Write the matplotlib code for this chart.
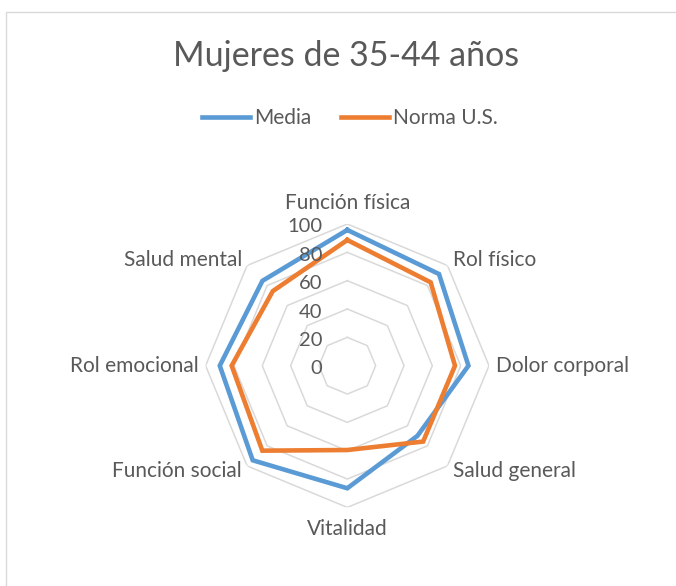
import numpy as np
import matplotlib
matplotlib.use("Agg")
import matplotlib.pyplot as plt
from matplotlib.patches import Rectangle

categories = ["Función física", "Rol físico", "Dolor corporal", "Salud general",
              "Vitalidad", "Función social", "Rol emocional", "Salud mental"]
media = [95.8, 91.5, 85.5, 70, 86.5, 94.4, 90, 84.7]
norma = [88.7, 83.2, 76, 75.7, 59.5, 84.8, 81.6, 74.4]
ticks = [0, 20, 40, 60, 80, 100]
title = "Mujeres de 35-44 años"
series_names = ["Media", "Norma U.S."]

plt.rcParams['font.family'] = ['Lato', 'DejaVu Sans']
TXT = "#595959"
W, H = 676, 586
fig = plt.figure(figsize=(W/100, H/100), dpi=100)

# chart border (left/top visible)
fig.patches.append(Rectangle((6/W, -0.1), 1.2, 1 - 12/H + 0.1, transform=fig.transFigure,
                             fill=False, edgecolor="#D9D9D9", linewidth=1))

cx, cy, R = 347.3, 365.7, 141.7
ax = fig.add_axes([(cx - R)/W, (H - cy - R)/H, 2*R/W, 2*R/H], projection='polar')
ax.set_theta_zero_location('N')
ax.set_theta_direction(-1)
ax.set_ylim(0, 100)
ax.grid(False)
ax.set_xticks([])
ax.set_yticks([])
ax.spines['polar'].set_visible(False)
ax.patch.set_alpha(0)

n = len(categories)
theta = np.arange(n) * 2*np.pi/n
tc = np.concatenate([theta, theta[:1]])

for t in ticks[1:]:
    ax.plot(tc, [t]*(n+1), color="#D9D9D9", lw=1.1, zorder=1)

colors = ["#5B9BD5", "#ED7D31"]
for vals, c, name in zip([media, norma], colors, series_names):
    v = np.concatenate([vals, vals[:1]])
    ax.plot(tc, v, color=c, lw=3.3, solid_joinstyle='miter', zorder=3, label=name)

# tick labels
for t in ticks:
    ax.annotate(str(t), xy=(0, t), xytext=(-25, -3), textcoords='offset pixels',
                ha='right', va='center', fontsize=14.5, color=TXT, zorder=4)

# category labels
FS = 15
for th, lab in zip(theta, categories):
    deg = np.degrees(th)
    if deg == 0:
        ax.text(th, 108, lab, ha='center', va='bottom', fontsize=FS, color=TXT)
    elif deg == 180:
        ax.text(th, 108, lab, ha='center', va='top', fontsize=FS, color=TXT)
    elif deg < 180:
        ax.text(th, 105, lab, ha='left', va='center', fontsize=FS, color=TXT)
    else:
        ax.text(th, 105, lab, ha='right', va='center', fontsize=FS, color=TXT)

fig.text(346/W, 1 - 56/H, title, ha='center', va='center', fontsize=24.5, color=TXT)

leg = fig.legend(loc='center', bbox_to_anchor=(350/W, 1 - 118/H), ncol=2, frameon=False,
                 fontsize=15, handlelength=2.3, handletextpad=0.2, columnspacing=1.4)
for txt in leg.get_texts():
    txt.set_color(TXT)

fig.savefig("out.png", dpi=100)
